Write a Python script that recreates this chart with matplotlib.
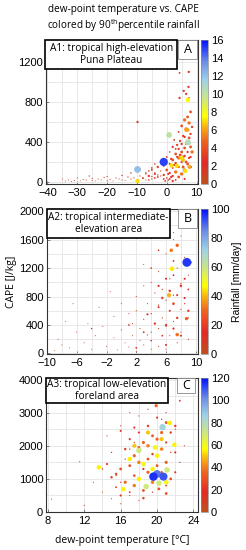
import numpy as np
import matplotlib
matplotlib.use("Agg")
import matplotlib.pyplot as plt
from matplotlib.colors import LinearSegmentedColormap
from matplotlib.ticker import MultipleLocator
from matplotlib.patches import Rectangle

plt.rcParams['font.family'] = ['Liberation Sans', 'DejaVu Sans']
plt.rcParams['mathtext.fontset'] = 'custom'
plt.rcParams['mathtext.rm'] = 'Open Sans'

# ---------------- panel A: Puna Plateau (rain 0-16 mm/day)
a_dew = [-35, -34, -33, -32, -31, -30, -29, -28, -27, -26,
         -25, -25, -24, -23, -22, -21, -20, -20, -19, -18,
         -17, -16, -15, -15, -14, -13, -12, -12, -11, -10,
         -9, -9, -8, -7, -7, -6, -5, -5, -4, -3,
         -8, -7, -6, -5, -5, -4, -4, -3, -3, -2,
         -2, -1, -1, 0, 0, 0, 1, 1, 1, 1.5,
         2, 2, 2, 2, 2.5, 3, 3, 3, 3, 3.5,
         4, 4, 4, 4, 4, 4.5, 4.5, 5, 5, 5,
         5, 5, 5.5, 5.5, 6, 6, 6, 6, 6, 6.5,
         6.5, 6.5, 7, 7, 7, 7, 7, 7.5, 7.5, 8,
         8, 8, 8, 8, 8.5, 8.5, 6.5, 4.3, 7.4, 5.7,
         4.3, 7.3, 7.4, -9.8, 3, 2, 1, 0.5, -0.5, 6,
         -6, -4, -2, -1, 0.5, 1.5, 2.5, 3.5, 5.5, 7.5,
         -1, -9.8, 0.8, 7.1, 7.1, 1.6, 3.4, 6.2, -9.8, 5.4,
         6.5, 5.0, 7.6]
a_cape = [30, 10, 20, 5, 15, 40, 10, 25, 20, 60,
          15, 35, 10, 30, 20, 45, 15, 55, 25, 10,
          40, 30, 20, 65, 15, 50, 30, 90, 40, 20,
          60, 130, 35, 80, 20, 110, 55, 140, 90, 70,
          40, 90, 60, 120, 30, 80, 180, 150, 50, 110,
          200, 70, 160, 40, 120, 250, 90, 180, 300, 230,
          60, 140, 220, 350, 420, 100, 190, 280, 330, 250,
          50, 150, 240, 330, 500, 270, 410, 80, 200, 300,
          380, 560, 150, 460, 120, 260, 340, 450, 620, 200,
          380, 530, 180, 300, 400, 520, 650, 240, 590, 150,
          250, 350, 480, 700, 300, 550, 880, 1090, 1100, 910,
          840, 950, 840, 600, 20, 10, 30, 20, 10, 30,
          20, 40, 60, 30, 80, 50, 170, 370, 250, 440,
          200, 125, 470, 395, 820, 165, 160, 110, 10, 220,
          520, 240, 150]
a_rain = [0.5, 0.3, 0.6, 0.4, 0.5, 0.8, 0.3, 0.5, 0.6, 1.0,
          0.4, 0.7, 0.3, 0.6, 0.5, 0.9, 0.4, 1.0, 0.6, 0.3,
          0.8, 0.6, 0.5, 1.2, 0.4, 1.0, 0.7, 1.4, 0.8, 0.5,
          1.0, 1.5, 0.8, 1.2, 0.6, 1.5, 1.0, 1.8, 1.4, 1.2,
          2, 1.5, 3, 2, 1, 2.5, 1.5, 3, 2, 1,
          2, 3, 2, 1.5, 4, 2, 3, 2.5, 1.5, 3,
          3, 2, 4, 3, 2, 5, 3, 4, 2, 3,
          4, 3, 5, 3, 2, 4, 3, 5, 3, 4,
          3, 4, 4, 3, 5, 3, 4, 3, 5, 4,
          3, 5, 4, 3, 4, 6, 4, 3, 5, 4,
          3, 4, 3, 4, 5, 3, 3, 2, 3, 3,
          3, 3, 2, 3, 2, 3, 2, 1.5, 2, 2.5,
          1.5, 2, 1, 2, 2.5, 3, 3, 3, 4, 4,
          15, 12, 10, 10.5, 7.5, 7, 7, 7, 7, 6.5,
          6, 7, 6]

# ---------------- panel B: intermediate-elevation area (rain 0-100)
b_dew = [-9, -8.5, -8, -7, -6.5, -6, -5, -4.5, -4, -3.5,
         -3, -2.5, -2, -1.5, -1, -1, -0.5, 0, 0, 0.5,
         1, 1, 1.5, 1.5, 2, 2, 2, 2.5, 2.5, 3,
         3, 3, 3.5, 3.5, 4, 4, 4, 4, 4.5, 4.5,
         5, 5, 5, 5, 5.5, 5.5, 6, 6, 6, 6,
         6.5, 6.5, 7, 7, 7, 7.5, 7.5, 8, 8, 8,
         8.5, 8.5, 9, 9, 9, 3, 5, 7, 8, -7.5,
         3, 3.5, 4, 4.5, 5, 5, 5.5, 5.5, 6, 6,
         6.5, 6.5, 7, 7, 7, 7.5, 7.5, 8, 8, 8.5,
         8.5, 9, 9, 4, 2, 1, 6, 7, -4, 5,
         8.8, 6.8, 6.7, 7.5, 6.4, 8.75, 7.5, 9.3]
b_cape = [40, 200, 120, 80, 700, 300, 150, 420, 60, 250,
          650, 380, 100, 870, 520, 220, 50, 700, 330, 150,
          560, 90, 420, 250, 800, 30, 600, 350, 180, 950,
          480, 120, 700, 260, 1000, 560, 300, 60, 850, 420,
          1150, 680, 350, 100, 900, 500, 1400, 750, 380, 60,
          1050, 250, 1600, 820, 450, 1200, 150, 980, 620, 300,
          1350, 700, 1100, 500, 200, 1250, 1650, 1700, 1650, 450,
          300, 550, 180, 420, 650, 950, 250, 780, 1050, 400,
          600, 880, 350, 700, 1100, 500, 820, 950, 250, 780,
          1050, 600, 900, 1200, 80, 400, 120, 1300, 350, 1450,
          1280, 1190, 1450, 1520, 820, 490, 265, 1280]
b_rain = [2, 3, 2, 2, 3, 2, 3, 2, 2, 3,
          3, 2, 3, 2, 3, 2, 2, 3, 3, 2,
          3, 2, 4, 3, 4, 2, 5, 4, 3, 4,
          5, 3, 4, 5, 4, 6, 5, 3, 5, 6,
          4, 6, 5, 4, 6, 5, 4, 6, 5, 3,
          5, 4, 4, 6, 5, 5, 4, 6, 5, 4,
          5, 6, 4, 6, 5, 3, 4, 4, 3, 2,
          12, 15, 10, 18, 14, 16, 12, 20, 15, 18,
          14, 20, 16, 22, 12, 18, 15, 20, 14, 16,
          15, 18, 12, 10, 12, 10, 14, 12, 8, 10,
          95, 45, 33, 30, 40, 30, 32, 20]

# ---------------- panel C: low-elevation foreland area (rain 0-120)
c_dew = [8.4, 11.5, 13, 14, 14.5, 15, 15, 15.5, 16, 16,
         16.5, 17, 17, 17.5, 18, 18, 18.5, 19, 19.5, 20,
         20.5, 21, 21.5, 22, 22.5, 23, 12, 14, 16, 17,
         14.5, 15, 15.5, 16, 16, 16.5, 16.5, 17, 17, 17,
         17.5, 17.5, 17.5, 18, 18, 18, 18, 18.5, 18.5, 18.5,
         19, 19, 19, 19, 19.5, 19.5, 19.5, 20, 20, 20,
         20.5, 20.5, 20.5, 21, 21, 21, 21.5, 21.5, 22, 22,
         19.9, 22.5, 16, 21, 15.5, 18.5, 20.2, 22, 21, 17.5,
         20.6, 19.6, 20.7, 20.0, 13.6, 21.4, 21.9, 16.3, 18.0, 20.2,
         21.1, 18.8, 19, 20, 18.5, 17.5, 19.5, 20.5, 21, 18,
         19.8, 17]
c_cape = [390, 1520, 900, 600, 2300, 1800, 400, 1100, 2600, 250,
          1600, 3000, 500, 2100, 2900, 350, 1300, 3100, 600, 3400,
          2800, 3000, 1800, 2500, 1500, 2000, 200, 1300, 900, 1900,
          1450, 1050, 750, 1300, 500, 1900, 900, 2200, 1400, 600,
          1700, 1100, 800, 2400, 1950, 1500, 1000, 2100, 1300, 650,
          2600, 2000, 1600, 1200, 2300, 1750, 900, 2850, 2200, 1400,
          2400, 1900, 1200, 2700, 2100, 1500, 2400, 1000, 1800, 2600,
          3210, 3360, 2450, 560, 1150, 420, 700, 1200, 800, 2550,
          2560, 1070, 1070, 1150, 1350, 2690, 2030, 690, 1860, 870,
          1270, 770, 2400, 1700, 1450, 2000, 1300, 2200, 900, 1000,
          1950, 1600]
c_rain = [5, 5, 6, 5, 6, 8, 5, 7, 6, 5,
          8, 6, 7, 8, 6, 5, 9, 7, 8, 6,
          8, 7, 9, 7, 8, 6, 5, 9, 8, 9,
          20, 25, 15, 30, 20, 25, 35, 20, 30, 15,
          35, 25, 40, 20, 30, 40, 25, 35, 20, 30,
          25, 40, 30, 35, 30, 25, 40, 20, 35, 30,
          35, 40, 25, 30, 20, 35, 25, 30, 20, 25,
          35, 15, 20, 30, 25, 25, 30, 20, 15, 20,
          85, 115, 110, 105, 55, 55, 55, 55, 70, 70,
          70, 70, 50, 55, 60, 50, 55, 50, 60, 55,
          60, 55]

cmap = LinearSegmentedColormap.from_list("rain", [
    (0.00, "#c0501e"), (0.15, "#e02a28"), (0.30, "#f0641e"),
    (0.40, "#f8b414"), (0.47, "#ffff00"), (0.60, "#c8e68c"),
    (0.72, "#a0d2e6"), (0.85, "#6c8ce6"), (1.00, "#0010ff")])

# box = (x0, x1, y0) of the label box, tag = (x0, x1, y0) of the letter box, in axes fraction
panels = [
    dict(x=a_dew, y=a_cape, r=a_rain, vmax=16, cbt=2, rect=[0.187, 0.6655, 0.618, 0.262],
         xlim=(-40.5, 10.5), xt=10, xm=5, ylim=(-20, 1420), yt=400, ym=200,
         title="A1: tropical high-elevation\nPuna Plateau", tag="A", dmax=8,
         box=(-0.005, 0.862, 0.795), tbox=(0.868, 0.995, 0.87)),
    dict(x=b_dew, y=b_cape, r=b_rain, vmax=100, cbt=20, rect=[0.191, 0.356, 0.614, 0.264],
         xlim=(-10, 10.3), xt=4, xm=2, ylim=(-10, 2030), yt=400, ym=200,
         title="A2: tropical intermediate-\nelevation area", tag="B", dmax=8.5,
         box=(0.0, 0.815, 0.80), tbox=(0.868, 0.995, 0.87)),
    dict(x=c_dew, y=c_cape, r=c_rain, vmax=120, cbt=20, rect=[0.187, 0.069, 0.618, 0.244],
         xlim=(7.8, 24.5), xt=4, xm=2, ylim=(0, 4050), yt=1000, ym=500,
         title="A3: tropical low-elevation\nforeland area", tag="C", dmax=8,
         box=(0.0, 0.80, 0.81), tbox=(0.86, 0.98, 0.885)),
]

fig = plt.figure(figsize=(2.46, 5.5), dpi=100)
box_font = ['Open Sans', 'DejaVu Sans']

for p in panels:
    ax = fig.add_axes(p["rect"])
    x = np.array(p["x"], float)
    y = np.array(p["y"], float)
    r = np.array(p["r"], float)
    order = np.argsort(r)
    d = 0.8 + p["dmax"] * r / p["vmax"]
    sc = ax.scatter(x[order], y[order], c=r[order], s=(0.72 * d[order]) ** 2,
                    cmap=cmap, vmin=0, vmax=p["vmax"], linewidths=0, zorder=3)
    ax.set_xlim(p["xlim"])
    ax.set_ylim(p["ylim"])
    ax.xaxis.set_major_locator(MultipleLocator(p["xt"]))
    ax.xaxis.set_minor_locator(MultipleLocator(p["xm"]))
    ax.yaxis.set_major_locator(MultipleLocator(p["yt"]))
    ax.yaxis.set_minor_locator(MultipleLocator(p["ym"]))
    if p["tag"] == "B":
        ax.set_xticks([-10, -6, -2, 2, 6, 10])
    ax.grid(True, which="both", color="#e4e4e4", linewidth=0.6, zorder=0)
    ax.set_axisbelow(True)
    ax.tick_params(which="both", direction="in", length=2, width=0.5,
                   labelsize=8, color="#555555")
    ax.tick_params(axis="x", pad=3)
    ax.tick_params(axis="y", pad=2)
    ax.tick_params(which="minor", length=0)
    for s in ax.spines.values():
        s.set_color("#333333")
        s.set_linewidth(0.8)

    bx0, bx1, by0 = p["box"]
    ax.add_patch(Rectangle((bx0, by0), bx1 - bx0, 1 - by0, transform=ax.transAxes,
                           fc="white", ec="black", lw=1.2, zorder=5, clip_on=False))
    ax.text((bx0 + bx1) / 2, (by0 + 1) / 2, p["title"], transform=ax.transAxes,
            ha="center", va="center", multialignment="center", fontsize=7.3,
            family=box_font, linespacing=1.1, zorder=6)
    tx0, tx1, ty0 = p["tbox"]
    ax.add_patch(Rectangle((tx0, ty0), tx1 - tx0, 1 - ty0, transform=ax.transAxes,
                           fc="white", ec="#888888", lw=0.6, zorder=5, clip_on=False))
    ax.text((tx0 + tx1) / 2, (ty0 + 1) / 2, p["tag"], transform=ax.transAxes,
            ha="center", va="center", fontsize=9, family=box_font, zorder=6)

    cax = fig.add_axes([p["rect"][0] + p["rect"][2] + 0.012, p["rect"][1], 0.028, p["rect"][3]])
    cb = fig.colorbar(sc, cax=cax, ticks=np.arange(0, p["vmax"] + 1, p["cbt"]))
    cb.outline.set_edgecolor("#888888")
    cb.outline.set_linewidth(0.5)
    cax.tick_params(labelsize=8, length=0, pad=2)
    if p["tag"] == "B":
        ax.set_ylabel("CAPE [J/kg]", fontsize=7.5, family=box_font, labelpad=2)
        cb.set_label("Rainfall [mm/day]", fontsize=7.5, labelpad=2)
    if p["tag"] == "C":
        ax.set_xlabel("dew-point temperature [°C]", fontsize=7.5, family=box_font, labelpad=6)

fig.text(0.5, 0.982, "dew-point temperature vs. CAPE", ha="center", va="center",
         fontsize=7.2, family=box_font)
fig.text(0.5, 0.953, r"colored by 90$^{\rm th}$percentile rainfall", ha="center",
         va="center", fontsize=7.2, family=box_font)

fig.savefig("out.png", dpi=100)
